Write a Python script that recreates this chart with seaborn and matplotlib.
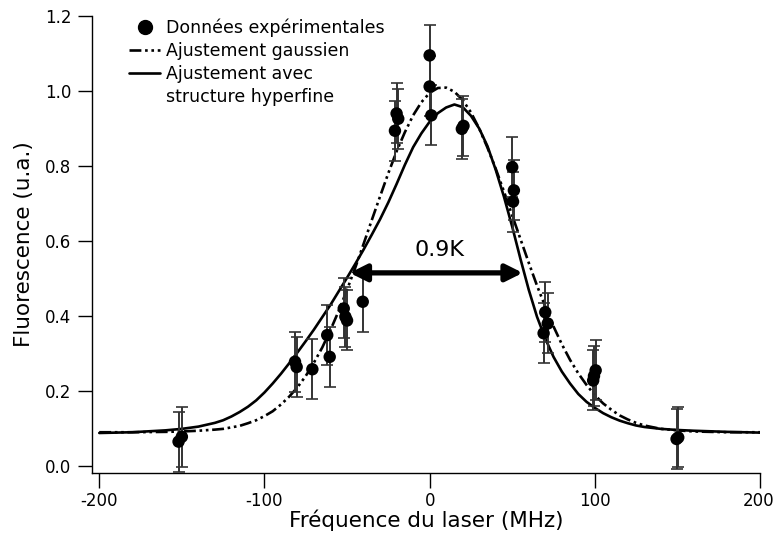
import matplotlib
matplotlib.use("Agg")
import matplotlib.pyplot as plt
import matplotlib.transforms as mtransforms
from matplotlib.lines import Line2D
import seaborn as sns
import pandas as pd

# ---- experimental data ----
data_x = [-152, -150, -81.5, -80.5, -71, -62, -60.5, -52, -51, -50, -40.5,
          -21, -20, -19, 0, 0, 1, 19.5, 20.5, 50, 51, 50.5,
          70, 71.5, 69, 100.5, 99.5, 99, 149.5, 150.5]
data_y = [0.065, 0.078, 0.278, 0.264, 0.258, 0.349, 0.291, 0.420, 0.398, 0.388, 0.438,
          0.894, 0.940, 0.926, 1.095, 1.012, 0.935, 0.899, 0.907, 0.797, 0.735, 0.705,
          0.410, 0.380, 0.354, 0.255, 0.240, 0.228, 0.072, 0.076]
data_err = [0.08] * len(data_x)

# ---- fitted curves ----
fit_x = [-200, -180, -160, -150, -140, -130, -125, -120, -115, -110, -105, -100,
         -95, -90, -85, -80, -75, -70, -65, -60, -55, -50, -45, -40, -35, -30,
         -25, -20, -15, -10, -5, 0, 5, 10, 15, 20, 25, 30, 35, 40, 45, 50, 55,
         60, 65, 70, 75, 80, 85, 90, 95, 100, 105, 110, 115, 120, 125, 130,
         140, 150, 160, 180, 200]
gauss_y = [0.090, 0.090, 0.091, 0.092, 0.094, 0.097, 0.099, 0.103, 0.107, 0.114,
           0.122, 0.133, 0.146, 0.164, 0.185, 0.210, 0.240, 0.276, 0.316, 0.363,
           0.414, 0.470, 0.529, 0.592, 0.656, 0.719, 0.781, 0.839, 0.890, 0.935,
           0.970, 0.995, 1.008, 1.009, 0.998, 0.976, 0.943, 0.900, 0.849, 0.793,
           0.732, 0.668, 0.605, 0.542, 0.481, 0.425, 0.372, 0.325, 0.283, 0.247,
           0.216, 0.189, 0.167, 0.150, 0.135, 0.124, 0.115, 0.108, 0.099, 0.095,
           0.092, 0.090, 0.090]
hyper_y = [0.088, 0.090, 0.095, 0.099, 0.105, 0.115, 0.122, 0.132, 0.144, 0.158,
           0.175, 0.196, 0.220, 0.246, 0.274, 0.303, 0.333, 0.364, 0.397, 0.430,
           0.466, 0.502, 0.539, 0.577, 0.617, 0.658, 0.703, 0.752, 0.803, 0.850,
           0.887, 0.918, 0.941, 0.956, 0.964, 0.957, 0.934, 0.900, 0.853, 0.790,
           0.718, 0.638, 0.552, 0.470, 0.398, 0.340, 0.291, 0.252, 0.220, 0.192,
           0.171, 0.155, 0.141, 0.130, 0.121, 0.114, 0.108, 0.104, 0.099, 0.096,
           0.094, 0.091, 0.089]

arrow_x = [-48.4, 56.4]
arrow_y = 0.515
label_text = "0.9K"
label_pos = (6, 0.575)

x_ticks = [-200, -100, 0, 100, 200]
y_ticks = [0.0, 0.2, 0.4, 0.6, 0.8, 1.0, 1.2]

sns.set_theme(style="ticks")
plt.rcParams['font.family'] = ['DejaVu Sans']
plt.rcParams['text.color'] = 'black'
plt.rcParams['axes.labelcolor'] = 'black'

fig = plt.figure(figsize=(7.74, 5.33), dpi=100)
ax = fig.add_axes([92/774, 60/533, (760-92)/774, (473-16)/533])

df_fit = pd.DataFrame({"x": fit_x, "gauss": gauss_y, "hyper": hyper_y})
sns.lineplot(data=df_fit, x="x", y="hyper", ax=ax, color="black", linewidth=1.9,
             sort=False, zorder=3)
sns.lineplot(data=df_fit, x="x", y="gauss", ax=ax, color="black", linewidth=1.9,
             sort=False, zorder=3)
ax.lines[-1].set_dashes([4.5, 1.4, 1.0, 1.4, 1.0, 1.4])

ax.errorbar(data_x, data_y, yerr=data_err, fmt="none", ecolor="#333333",
            elinewidth=1.4, capsize=4.5, capthick=1.2, zorder=4)
df_pts = pd.DataFrame({"x": data_x, "y": data_y})
sns.scatterplot(data=df_pts, x="x", y="y", ax=ax, color="black", s=80,
                edgecolor="none", zorder=5)

ax.annotate("", xy=(arrow_x[0], arrow_y), xytext=(arrow_x[1], arrow_y),
            arrowprops=dict(arrowstyle="<|-|>,head_length=0.5,head_width=0.25",
                            color="black", lw=3.8, shrinkA=0, shrinkB=0,
                            mutation_scale=20), zorder=6)
ax.text(label_pos[0], label_pos[1], label_text, ha="center", va="center",
        fontsize=16, color="black")

ax.set_xlim(-204.4, 200)
ax.set_ylim(-0.0187, 1.2)
ax.set_xticks(x_ticks)
ax.set_xticklabels([str(t) for t in x_ticks])
ax.set_yticks(y_ticks)
ax.set_yticklabels([f"{t:.1f}" for t in y_ticks])
ax.tick_params(axis="both", direction="out", colors="black", labelsize=12,
               width=1.0)
ax.tick_params(axis="y", length=10, pad=5)
ax.tick_params(axis="x", length=11, pad=3)
for s in ["top", "right"]:
    ax.spines[s].set_visible(False)
for s in ["left", "bottom"]:
    ax.spines[s].set_color("black")
    ax.spines[s].set_linewidth(1.0)

ax.set_xlabel("Fréquence du laser (MHz)", fontsize=15.5, labelpad=-1)
ax.set_ylabel("Fluorescence (u.a.)", fontsize=15.5, labelpad=8)

handles = [
    Line2D([], [], marker="o", color="black", linestyle="none", markersize=10),
    Line2D([], [], color="black", linewidth=1.9,
           dashes=[4.5, 1.4, 1.0, 1.4, 1.0, 1.4]),
    Line2D([], [], color="black", linewidth=1.9),
    Line2D([], [], color="none"),
]
labels = ["Données expérimentales", "Ajustement gaussien", "Ajustement avec",
          "structure hyperfine"]
leg = ax.legend(handles, labels, loc="upper left", bbox_to_anchor=(0.045, 1.01),
                frameon=False, fontsize=12.5, handlelength=1.8,
                handletextpad=0.35, labelspacing=0.3, borderaxespad=0)

# keep the last x tick label inside the figure
fig.canvas.draw()
last = ax.get_xticklabels()[-1]
last.set_horizontalalignment("right")
last.set_transform(last.get_transform() +
                   mtransforms.ScaledTranslation(14/100, 0, fig.dpi_scale_trans))

fig.savefig("out.png", dpi=100)
